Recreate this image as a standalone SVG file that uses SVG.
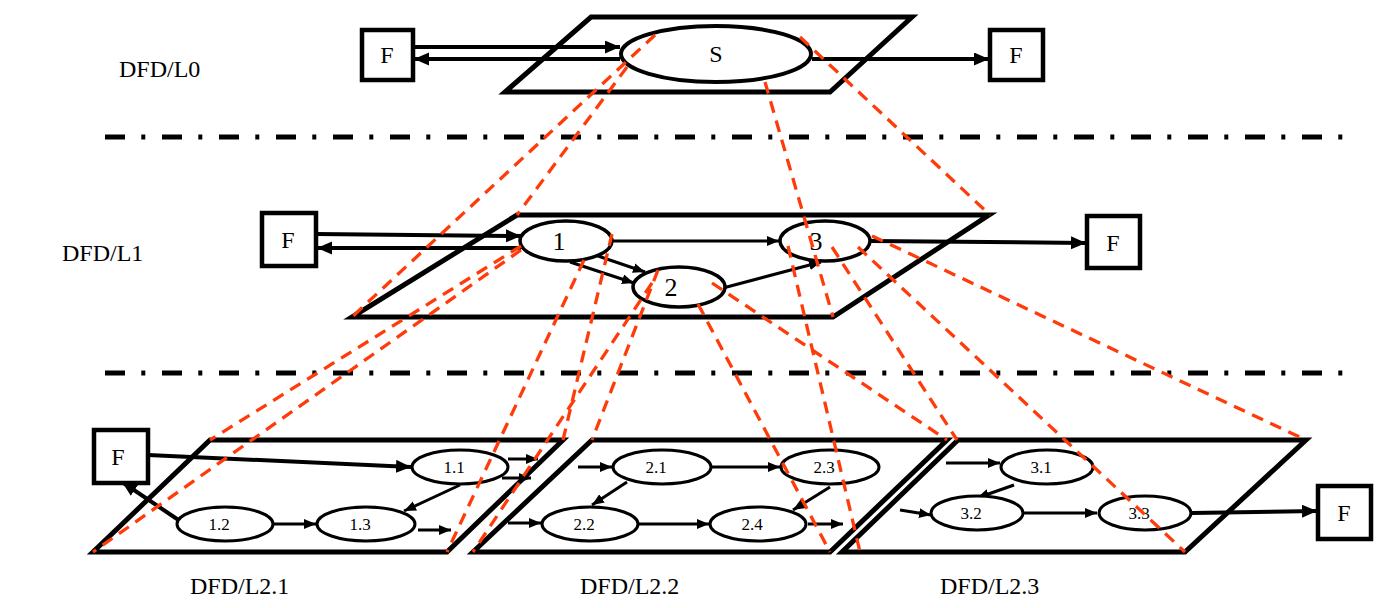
<svg xmlns="http://www.w3.org/2000/svg" width="1384" height="608" viewBox="0 0 1384 608">
<defs>
<style>
text{font-family:"Liberation Serif","Times New Roman",serif;fill:#000;}
.lbl{font-size:24px;}
.big{font-size:24px;text-anchor:middle;}
.num{font-size:26px;text-anchor:middle;}
.sm{font-size:17px;text-anchor:middle;}
.pg{fill:none;stroke:#000;stroke-width:5;stroke-linejoin:miter;}
.box{fill:#fff;stroke:#000;stroke-width:4.5;}
.el{fill:#fff;stroke:#000;stroke-width:3.5;}
.el2{fill:#fff;stroke:#000;stroke-width:3;}
.sep{stroke:#000;stroke-width:5;stroke-dasharray:20 16.3 4 16.7;fill:none;}
.a4{stroke:#000;stroke-width:4;fill:none;marker-end:url(#ah);}
.a3{stroke:#000;stroke-width:3;fill:none;marker-end:url(#as);}
.rd{stroke:#ff3b0a;stroke-width:3.3;stroke-dasharray:12 8;fill:none;}
</style>
<marker id="ah" markerUnits="userSpaceOnUse" markerWidth="16" markerHeight="14" refX="15" refY="6.5" orient="auto"><path d="M0,0 L15,6.5 L0,13 z" fill="#000"/></marker>
<marker id="as" markerUnits="userSpaceOnUse" markerWidth="13" markerHeight="11" refX="12" refY="5" orient="auto"><path d="M0,0 L12,5 L0,10 z" fill="#000"/></marker>
</defs>
<rect width="1384" height="608" fill="#fff"/>

<g id="separators">
<line class="sep" x1="105" y1="137" x2="1345" y2="137"/>
<line class="sep" x1="105" y1="373" x2="1345" y2="373"/>
</g>

<g id="labels">
<text class="lbl" x="119" y="77">DFD/L0</text>
<text class="lbl" x="62" y="261">DFD/L1</text>
<text class="lbl" x="190" y="594">DFD/L2.1</text>
<text class="lbl" x="580" y="594">DFD/L2.2</text>
<text class="lbl" x="940" y="594">DFD/L2.3</text>
</g>

<g id="planes">
<polygon id="plane-L0" class="pg" points="591,17 912,17 830,92 505,92"/>
<polygon id="plane-L1" class="pg" points="517,215 989,215 833,317 352,317"/>
<polygon id="plane-L21" class="pg" points="210,440 563,440 447,552 93,552"/>
<polygon id="plane-L22" class="pg" points="592,440 947,440 830,552 473,552"/>
<polygon id="plane-L23" class="pg" points="958,440 1306,440 1185,552 842,552"/>
</g>

<g id="connectors">
<line class="a4" x1="413" y1="47" x2="620" y2="47"/>
<line class="a4" x1="620" y1="59" x2="414" y2="59"/>
<line class="a4" x1="812" y1="59" x2="989" y2="59"/>
<line class="a4" x1="316" y1="234" x2="521" y2="236"/>
<line class="a4" x1="521" y1="248" x2="317" y2="248"/>
<line class="a3" x1="612" y1="241" x2="779" y2="241"/>
<line class="a3" x1="598" y1="256" x2="645" y2="272"/>
<line class="a3" x1="570" y1="262" x2="634" y2="283"/>
<line class="a3" x1="723" y1="288" x2="821" y2="262"/>
<line class="a4" x1="870" y1="241" x2="1086" y2="243"/>
<line class="a4" x1="148" y1="455" x2="411" y2="467"/>
<line class="a4" x1="180" y1="521" x2="122" y2="482"/>
<line class="a3" x1="460" y1="485" x2="404" y2="511"/>
<line class="a3" x1="273" y1="524" x2="316" y2="524"/>
<line class="a3" x1="508" y1="459" x2="538" y2="459"/>
<line class="a3" x1="502" y1="478" x2="531" y2="478"/>
<line class="a3" x1="418" y1="530" x2="451" y2="530"/>
<line class="a3" x1="578" y1="467" x2="612" y2="467"/>
<line class="a3" x1="711" y1="467" x2="780" y2="467"/>
<line class="a3" x1="627" y1="482" x2="592" y2="505"/>
<line class="a3" x1="830" y1="487" x2="793" y2="510"/>
<line class="a3" x1="508" y1="523" x2="541" y2="523"/>
<line class="a3" x1="639" y1="524" x2="709" y2="524"/>
<line class="a3" x1="808" y1="524" x2="843" y2="524"/>
<line class="a3" x1="946" y1="463" x2="1000" y2="463"/>
<line class="a3" x1="1014" y1="485" x2="977" y2="498"/>
<line class="a3" x1="900" y1="510" x2="931" y2="515"/>
<line class="a3" x1="1024" y1="513" x2="1097" y2="513"/>
<line class="a4" x1="1192" y1="513" x2="1317" y2="511"/>
</g>

<g id="node-S"><ellipse class="el" cx="716" cy="54" rx="95" ry="28" style="stroke-width:4"/><text class="big" x="716" y="62">S</text></g>
<g id="node-F0a"><rect class="box" x="362" y="30" width="51" height="50"/><text class="big" x="387" y="63">F</text></g>
<g id="node-F0b"><rect class="box" x="990" y="30" width="53" height="50"/><text class="big" x="1016" y="63">F</text></g>

<g id="node-F1a"><rect class="box" x="262" y="213" width="54" height="53"/><text class="big" x="288" y="248">F</text></g>
<g id="node-F1b"><rect class="box" x="1087" y="216" width="53" height="52"/><text class="big" x="1113" y="251">F</text></g>
<g id="node-1"><ellipse class="el" cx="566" cy="241" rx="46" ry="20"/><text class="num" x="559" y="250">1</text></g>
<g id="node-2"><ellipse class="el" cx="679" cy="287" rx="46" ry="20"/><text class="num" x="671" y="296">2</text></g>
<g id="node-3"><ellipse class="el" cx="825" cy="241" rx="45" ry="20"/><text class="num" x="816" y="250">3</text></g>

<g id="node-F21"><rect class="box" x="94" y="430" width="54" height="53"/><text class="big" x="118" y="465">F</text></g>
<g id="node-1-1"><ellipse class="el2" cx="460" cy="467" rx="48" ry="17"/><text class="sm" x="454" y="473">1.1</text></g>
<g id="node-1-2"><ellipse class="el2" cx="225" cy="524" rx="48" ry="17"/><text class="sm" x="219" y="530">1.2</text></g>
<g id="node-1-3"><ellipse class="el2" cx="366" cy="524" rx="49" ry="17"/><text class="sm" x="360" y="530">1.3</text></g>

<g id="node-2-1"><ellipse class="el2" cx="662" cy="467" rx="49" ry="17"/><text class="sm" x="656" y="473">2.1</text></g>
<g id="node-2-2"><ellipse class="el2" cx="590" cy="524" rx="48" ry="17"/><text class="sm" x="584" y="530">2.2</text></g>
<g id="node-2-3"><ellipse class="el2" cx="830" cy="467" rx="49" ry="17"/><text class="sm" x="824" y="473">2.3</text></g>
<g id="node-2-4"><ellipse class="el2" cx="758" cy="524" rx="48" ry="17"/><text class="sm" x="752" y="530">2.4</text></g>

<g id="node-3-1"><ellipse class="el2" cx="1047" cy="467" rx="46" ry="17"/><text class="sm" x="1041" y="473">3.1</text></g>
<g id="node-3-2"><ellipse class="el2" cx="977" cy="513" rx="46" ry="17"/><text class="sm" x="971" y="519">3.2</text></g>
<g id="node-3-3"><ellipse class="el2" cx="1145" cy="513" rx="46" ry="17"/><text class="sm" x="1139" y="519">3.3</text></g>
<g id="node-F23"><rect class="box" x="1318" y="486" width="53" height="53"/><text class="big" x="1344" y="521">F</text></g>

<g id="projections">
<line class="rd" x1="655" y1="35" x2="352" y2="317"/>
<line class="rd" x1="627" y1="67" x2="517" y2="215"/>
<line class="rd" x1="765" y1="82" x2="833" y2="317"/>
<line class="rd" x1="800" y1="37" x2="990" y2="215"/>
<line class="rd" x1="521" y1="246" x2="210" y2="440"/>
<line class="rd" x1="521" y1="250" x2="93" y2="552"/>
<line class="rd" x1="584" y1="260" x2="447" y2="552"/>
<line class="rd" x1="612" y1="234" x2="563" y2="440"/>
<line class="rd" x1="658" y1="270" x2="592" y2="440"/>
<line class="rd" x1="652" y1="283" x2="473" y2="552"/>
<line class="rd" x1="712" y1="283" x2="947" y2="440"/>
<line class="rd" x1="698" y1="304" x2="830" y2="552"/>
<line class="rd" x1="788" y1="246" x2="860" y2="552"/>
<line class="rd" x1="832" y1="247" x2="957" y2="440"/>
<line class="rd" x1="858" y1="247" x2="1185" y2="552"/>
<line class="rd" x1="872" y1="236" x2="1306" y2="440"/>
</g>
</svg>
